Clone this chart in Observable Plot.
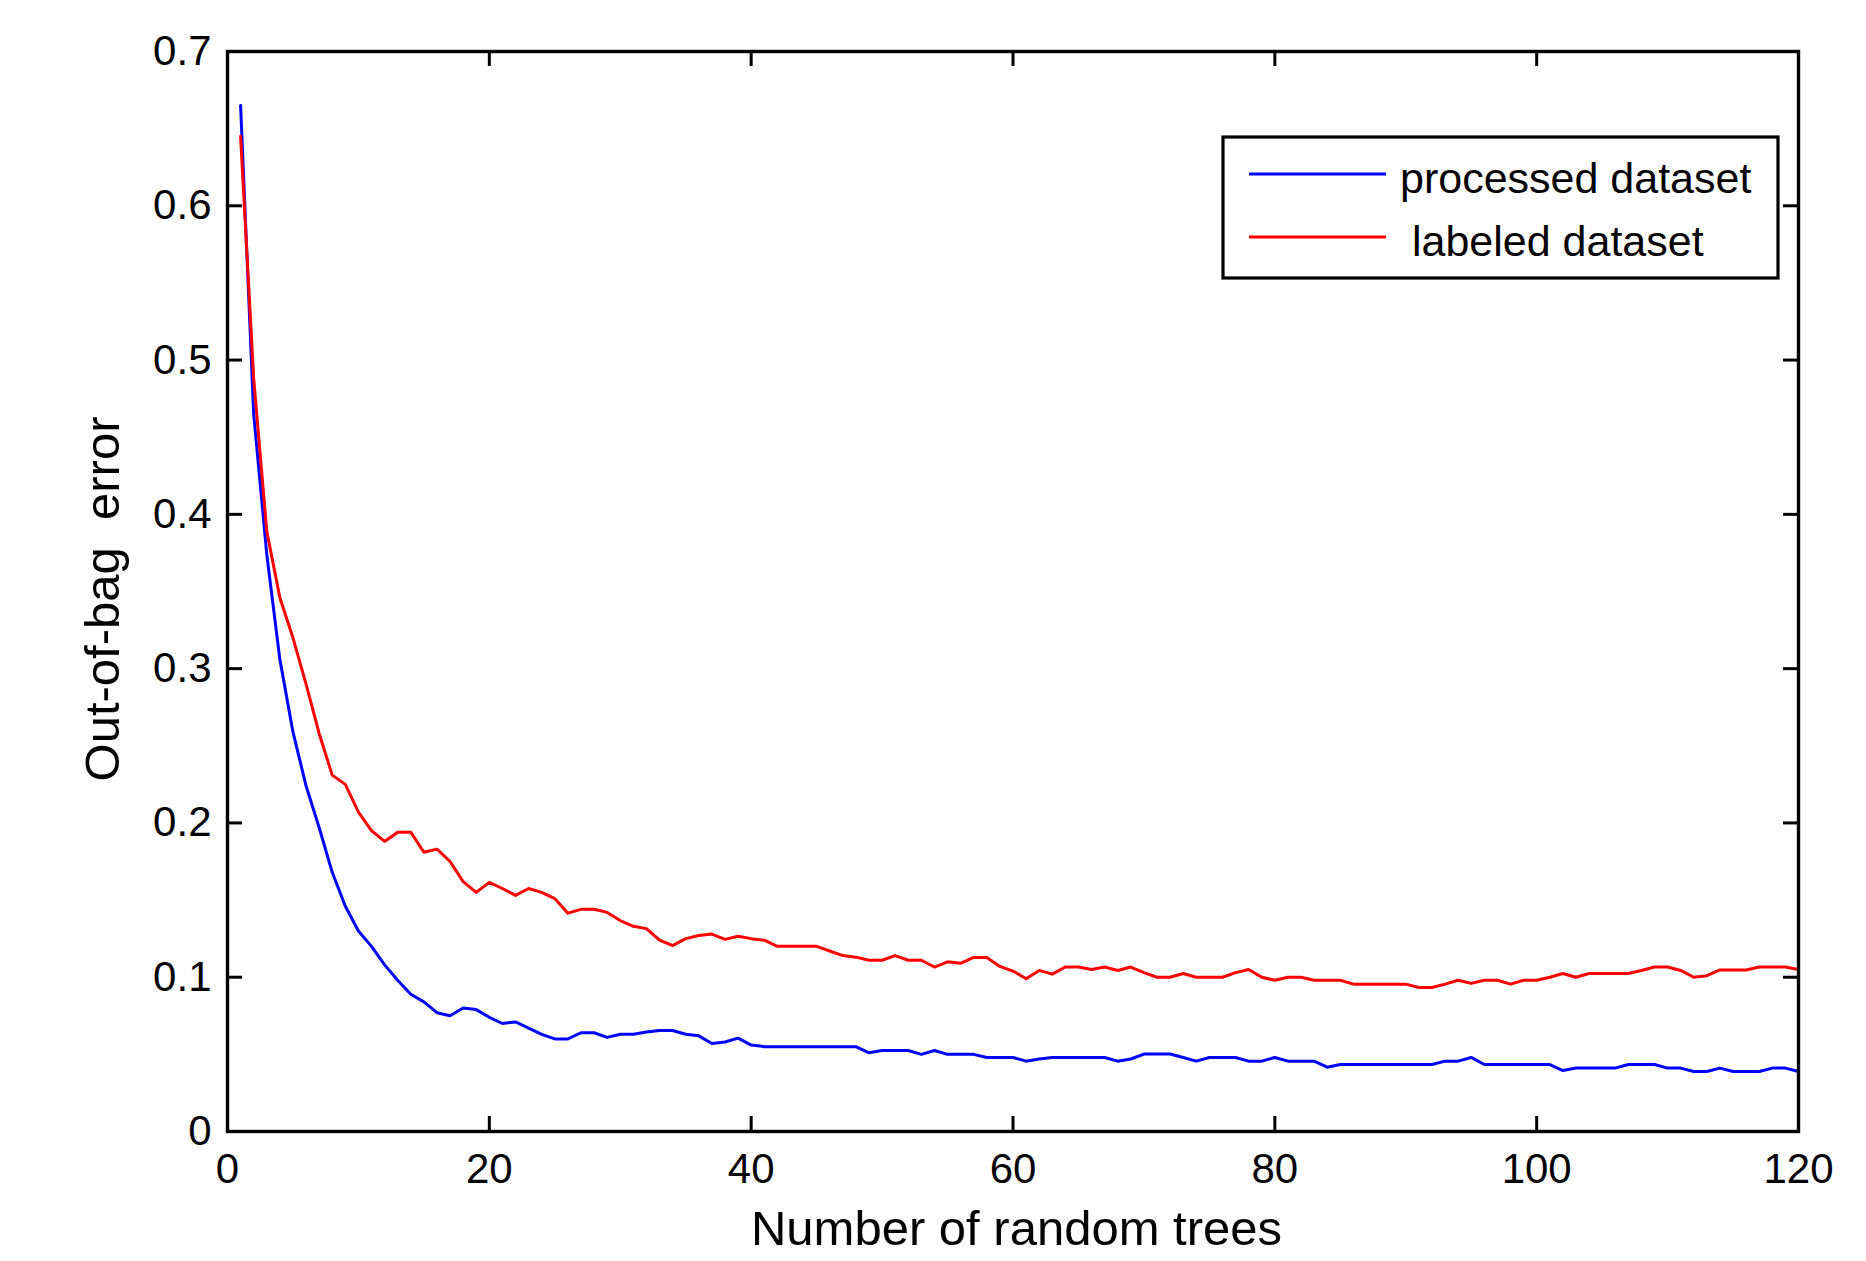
<!DOCTYPE html>
<html>
<head>
<meta charset="utf-8">
<script src="https://cdn.jsdelivr.net/npm/d3@7"></script>
<script src="https://cdn.jsdelivr.net/npm/@observablehq/plot@0.6"></script>
<style>
  html, body { margin: 0; padding: 0; background: #ffffff; }
  #chart svg { display: block; }
</style>
</head>
<body>
<div id="chart"></div>
<script>
// ---- data ----
const trees = d3.range(1, 121);

const processedError = [
  0.665, 0.465, 0.374, 0.306, 0.259, 0.224, 0.197, 0.168, 0.146, 0.130,
  0.120, 0.108, 0.098, 0.089, 0.084, 0.077, 0.075, 0.080, 0.079, 0.074,
  0.070, 0.071, 0.067, 0.063, 0.060, 0.060, 0.064, 0.064, 0.061, 0.063,
  0.063, 0.0645, 0.0655, 0.0655, 0.063, 0.062, 0.057, 0.058, 0.0605, 0.056,
  0.055, 0.055, 0.055, 0.055, 0.055, 0.055, 0.055, 0.055, 0.051, 0.0525,
  0.0525, 0.0525, 0.050, 0.0525, 0.050, 0.050, 0.050, 0.048, 0.048, 0.048,
  0.0456, 0.047, 0.048, 0.048, 0.048, 0.048, 0.048, 0.0456, 0.047, 0.0502,
  0.0502, 0.0502, 0.048, 0.0456, 0.048, 0.048, 0.048, 0.0456, 0.0456, 0.048,
  0.0456, 0.0456, 0.0456, 0.0417, 0.0434, 0.0434, 0.0434, 0.0434, 0.0434, 0.0434,
  0.0434, 0.0434, 0.0456, 0.0456, 0.048, 0.0434, 0.0434, 0.0434, 0.0434, 0.0434,
  0.0434, 0.0395, 0.0411, 0.0411, 0.0411, 0.0411, 0.0434, 0.0434, 0.0434, 0.0411,
  0.0411, 0.0389, 0.0389, 0.0411, 0.0389, 0.0389, 0.0389, 0.0411, 0.0411, 0.0389
];

const labeledError = [
  0.645, 0.488, 0.389, 0.346, 0.320, 0.290, 0.258, 0.231, 0.225, 0.207,
  0.195, 0.188, 0.194, 0.194, 0.181, 0.183, 0.175, 0.162, 0.155, 0.1615,
  0.1575, 0.153, 0.1575, 0.155, 0.151, 0.1415, 0.144, 0.144, 0.142, 0.1367,
  0.133, 0.1315, 0.124, 0.1205, 0.125, 0.127, 0.128, 0.1245, 0.1265, 0.125,
  0.124, 0.120, 0.120, 0.120, 0.120, 0.117, 0.114, 0.113, 0.111, 0.111,
  0.114, 0.111, 0.111, 0.1066, 0.110, 0.109, 0.1128, 0.1128, 0.107, 0.104,
  0.099, 0.1044, 0.102, 0.1066, 0.1066, 0.105, 0.1066, 0.1044, 0.1066, 0.103,
  0.100, 0.100, 0.1024, 0.100, 0.100, 0.100, 0.103, 0.105, 0.100, 0.098,
  0.100, 0.100, 0.098, 0.098, 0.098, 0.0955, 0.0955, 0.0955, 0.0955, 0.0955,
  0.0933, 0.0933, 0.0955, 0.098, 0.096, 0.098, 0.098, 0.0955, 0.098, 0.098,
  0.100, 0.1024, 0.100, 0.1024, 0.1024, 0.1024, 0.1024, 0.1044, 0.1066, 0.1066,
  0.1044, 0.100, 0.101, 0.1047, 0.1047, 0.1047, 0.1066, 0.1066, 0.1066, 0.105
];

const seriesNames = ["processed dataset", " labeled dataset"];
const seriesColors = ["#0000ff", "#ff0000"];

const xTicks = [0, 20, 40, 60, 80, 100, 120];
const yTicks = [0, 0.1, 0.2, 0.3, 0.4, 0.5, 0.6, 0.7];
const yTickLabels = ["0", "0.1", "0.2", "0.3", "0.4", "0.5", "0.6", "0.7"];

const xLabel = "Number of random trees";
const yLabel = "Out-of-bag  error";

// ---- layout ----
const W = 1866, H = 1261;
const mL = 227, mR = 68, mT = 51, mB = 130;
const plotW = W - mL - mR, plotH = H - mT - mB;
const tickLen = 15;
const FONT = "'Liberation Sans', Arial, Helvetica, sans-serif";

const processedRows = trees.map((t, i) => ({tree: t, value: processedError[i]}));
const labeledRows = trees.map((t, i) => ({tree: t, value: labeledError[i]}));

const chart = Plot.plot({
  width: W,
  height: H,
  marginLeft: mL,
  marginRight: mR,
  marginTop: mT,
  marginBottom: mB,
  style: {fontFamily: FONT, background: "#ffffff", color: "#000000", overflow: "visible"},
  x: {domain: [0, 120]},
  y: {domain: [0, 0.7]},
  marks: [
    // data lines
    Plot.line(processedRows, {x: "tree", y: "value", stroke: seriesColors[0], strokeWidth: 3, curve: "linear"}),
    Plot.line(labeledRows, {x: "tree", y: "value", stroke: seriesColors[1], strokeWidth: 3, curve: "linear"}),
    // inward ticks on all four sides
    Plot.tickX(xTicks, {x: d => d, insetTop: plotH - tickLen, stroke: "#000", strokeWidth: 3}),
    Plot.tickX(xTicks, {x: d => d, insetBottom: plotH - tickLen, stroke: "#000", strokeWidth: 3}),
    Plot.tickY(yTicks, {y: d => d, insetRight: plotW - tickLen, stroke: "#000", strokeWidth: 3}),
    Plot.tickY(yTicks, {y: d => d, insetLeft: plotW - tickLen, stroke: "#000", strokeWidth: 3}),
    // tick labels
    Plot.axisX(xTicks, {anchor: "bottom", tickSize: 0, tickPadding: 22, fontSize: 42, label: null, tickFormat: d => String(d)}),
    Plot.axisY(yTicks, {anchor: "left", tickSize: 0, tickPadding: 16, fontSize: 42, label: null, tickFormat: (d, i) => yTickLabels[i]}),
    // box
    Plot.frame({stroke: "#000", strokeWidth: 3.4})
  ]
});

document.getElementById("chart").appendChild(chart);

// ---- axis titles and legend ----
const svg = d3.select(chart);

svg.append("text")
  .attr("x", mL + plotW / 2 + 4)
  .attr("y", 1245)
  .attr("text-anchor", "middle")
  .attr("font-family", FONT)
  .attr("font-size", 49)
  .attr("fill", "#000")
  .text(xLabel);

svg.append("text")
  .attr("transform", `translate(119,${mT + plotH / 2 + 8}) rotate(-90)`)
  .attr("text-anchor", "middle")
  .attr("font-family", FONT)
  .attr("font-size", 49)
  .attr("fill", "#000")
  .style("white-space", "pre")
  .text(yLabel);

const legend = svg.append("g");
legend.append("rect")
  .attr("x", 1223).attr("y", 137)
  .attr("width", 555).attr("height", 141)
  .attr("fill", "#fff").attr("stroke", "#000").attr("stroke-width", 3.2);

seriesNames.forEach((name, i) => {
  const y = 174 + i * 63;
  legend.append("line")
    .attr("x1", 1249).attr("x2", 1386)
    .attr("y1", y).attr("y2", y)
    .attr("stroke", seriesColors[i]).attr("stroke-width", 3);
  legend.append("text")
    .attr("x", 1400).attr("y", y + 19)
    .attr("text-anchor", "start")
    .attr("font-family", FONT)
    .attr("font-size", 43)
    .attr("fill", "#000")
    .style("white-space", "pre")
    .text(name);
});
</script>
</body>
</html>
